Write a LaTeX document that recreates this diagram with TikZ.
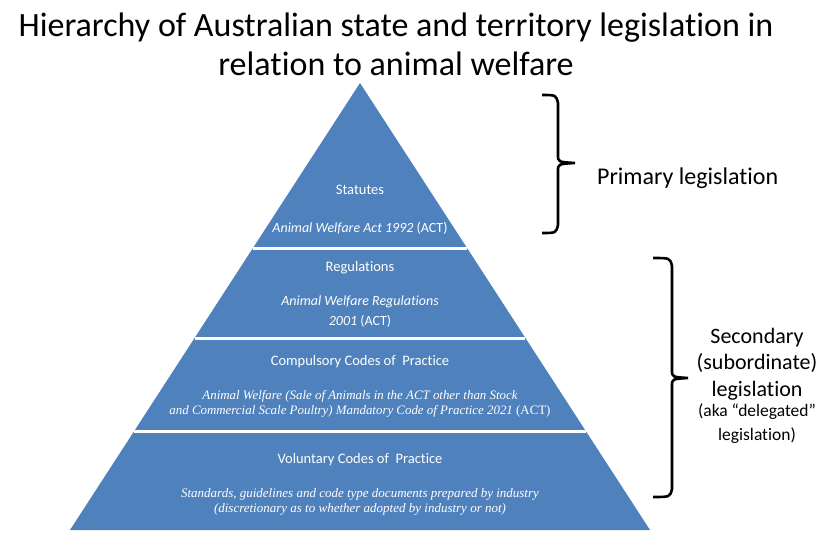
\documentclass[tikz,border=0pt]{standalone}
\usepackage{fontspec}
\setmainfont{Carlito}[Ligatures=NoCommon]
\newfontfamily\actfont{Liberation Serif}
\usetikzlibrary{positioning}

\definecolor{pyrblue}{HTML}{4F81BD}

\begin{document}
\begin{tikzpicture}[x=1pt,y=-1pt,
    band/.style={fill=pyrblue,draw=none},
    gap/.style={draw=white,line width=3pt},
    head/.style={text=white,font=\fontsize{14.5}{17}\selectfont,inner sep=0pt},
    act/.style={text=white,font=\fontsize{14}{20}\selectfont\itshape,inner sep=0pt,align=center},
    lawtext/.style={text=black,inner sep=0pt,align=center},
    legbrace/.style={draw=black,line width=2.6pt}]
\useasboundingbox (0,0) rectangle (832,546);

% title
\node [lawtext,font=\fontsize{34}{39}\selectfont] (title) at (396,44)
    {Hierarchy of Australian state and territory legislation in\\relation to animal welfare};

% pyramid
\coordinate (apex) at (360,83);
\coordinate (bl) at (70,530);
\coordinate (br) at (650,530);
\fill [band] (apex) -- (br) -- (bl) -- cycle;

\begin{scope}
    \coordinate (g1l) at (253,248);
    \coordinate (g1r) at (467,248);
    \coordinate (g2l) at (195,338);
    \coordinate (g2r) at (525,338);
    \coordinate (g3l) at (134,431);
    \coordinate (g3r) at (586,431);
    \draw [gap] (g1l) -- (g1r);
    \draw [gap] (g2l) -- (g2r);
    \draw [gap] (g3l) -- (g3r);
\end{scope}

\begin{scope}
    \node [head] (statutes) at (360,190) {Statutes};
    \node [act] (awact) at (360,228) {Animal Welfare Act 1992 \upshape(ACT)};

    \node [head] (regs) at (360,268) {Regulations};
    \node [act] (awregs) at (360,312) {Animal Welfare Regulations\\2001 \upshape(ACT)};

    \node [head] (compulsory) at (360,362) {Compulsory Codes of\ \ Practice};
    \node [act,font=\fontsize{12.9}{15}\selectfont\actfont\itshape] (mandatory) at (360,404)
        {Animal Welfare (Sale of Animals in the ACT other than Stock\\
         and Commercial Scale Poultry) Mandatory Code of Practice 2021 \upshape(ACT)};

    \node [head] (voluntary) at (360,460) {Voluntary Codes of\ \ Practice};
    \node [act,font=\fontsize{13}{15.5}\selectfont\actfont\itshape] (industry) at (360,502)
        {Standards, guidelines and code type documents prepared by industry\\
         (discretionary as to whether adopted by industry or not)};
\end{scope}

% braces
\draw [legbrace] (542,95) .. controls (556,95) .. (558,103) -- (558,155)
    .. controls (558,162) .. (575,163) .. controls (558,164) .. (558,171)
    -- (558,225) .. controls (556,233) .. (542,233);
\draw [legbrace] (653,258) .. controls (670,258) .. (672,266) -- (672,370)
    .. controls (672,377) .. (688,378) .. controls (672,379) .. (672,386)
    -- (672,489) .. controls (670,497) .. (653,497);

\node [lawtext,font=\fontsize{24}{27}\selectfont,anchor=west] (primary) at (597,178)
    {Primary legislation};
\node [lawtext,font=\fontsize{22}{26.5}\selectfont] (secondary) at (757,364)
    {Secondary\\(subordinate)\\legislation};
\node [lawtext,font=\fontsize{17.5}{24}\selectfont,below=3pt of secondary] (delegated)
    {(aka “delegated”\\legislation)};
\end{tikzpicture}
\end{document}
